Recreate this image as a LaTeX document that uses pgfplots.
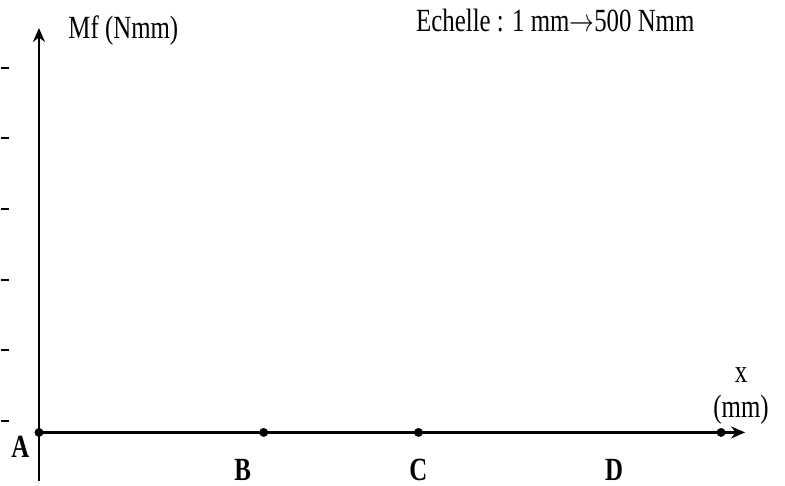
\documentclass[border=0pt]{standalone}
\usepackage{pgfplots}
\pgfplotsset{compat=1.18}
\usepackage{graphicx}
\usepackage{fontspec}
\setmainfont{Liberation Serif}
\usetikzlibrary{arrows.meta}

% text in the reference is set large and slightly stretched vertically
\newcommand{\tall}[1]{\scalebox{1}[1.3]{\fontsize{25}{30}\selectfont #1}}

\begin{document}
\begin{tikzpicture}
  \begin{axis}[
      scale only axis,
      width=707bp, height=454bp,
      xmin=0, xmax=707,
      ymin=-49, ymax=405,
      enlargelimits=false,
      axis lines=middle,
      axis line style={line width=2.6bp, -{Stealth[length=14bp,width=12bp]}},
      xtick=\empty, ytick=\empty,
      clip=false,
    ]
    % fixed frame (one unit = one pixel of the reference)
    \path (axis cs:-38,-53) rectangle (axis cs:747,433);

    % points A, B, C, D on the x axis
    \addplot[only marks, mark=*, mark size=4.2bp, black] coordinates {
      (0,0) (225,0) (380,0) (683,0)
    };

    % small dashes at the left edge
    \pgfplotsinvokeforeach{365,295,224,153,83,11}{
      \draw[line width=2bp, black] (axis cs:-38,#1) -- (axis cs:-30,#1);
    }

    \node[anchor=base, inner sep=0pt] at (axis cs:84.5,394) {\tall{Mf (Nmm)}};
    \node[anchor=base, inner sep=0pt] at (axis cs:517,401) {\tall{Echelle : 1 mm$\rightarrow$500 Nmm}};
    \node[anchor=base, inner sep=0pt] at (axis cs:703,50) {\tall{x}};
    \node[anchor=base, inner sep=0pt] at (axis cs:703,15) {\tall{(mm)}};

    \node[anchor=base, inner sep=0pt] at (axis cs:-18.5,-25) {\tall{\bfseries A}};
    \node[anchor=base, inner sep=0pt] at (axis cs:204,-48) {\tall{\bfseries B}};
    \node[anchor=base, inner sep=0pt] at (axis cs:380,-48) {\tall{\bfseries C}};
    \node[anchor=base, inner sep=0pt] at (axis cs:576,-48) {\tall{\bfseries D}};
  \end{axis}
\end{tikzpicture}
\end{document}
